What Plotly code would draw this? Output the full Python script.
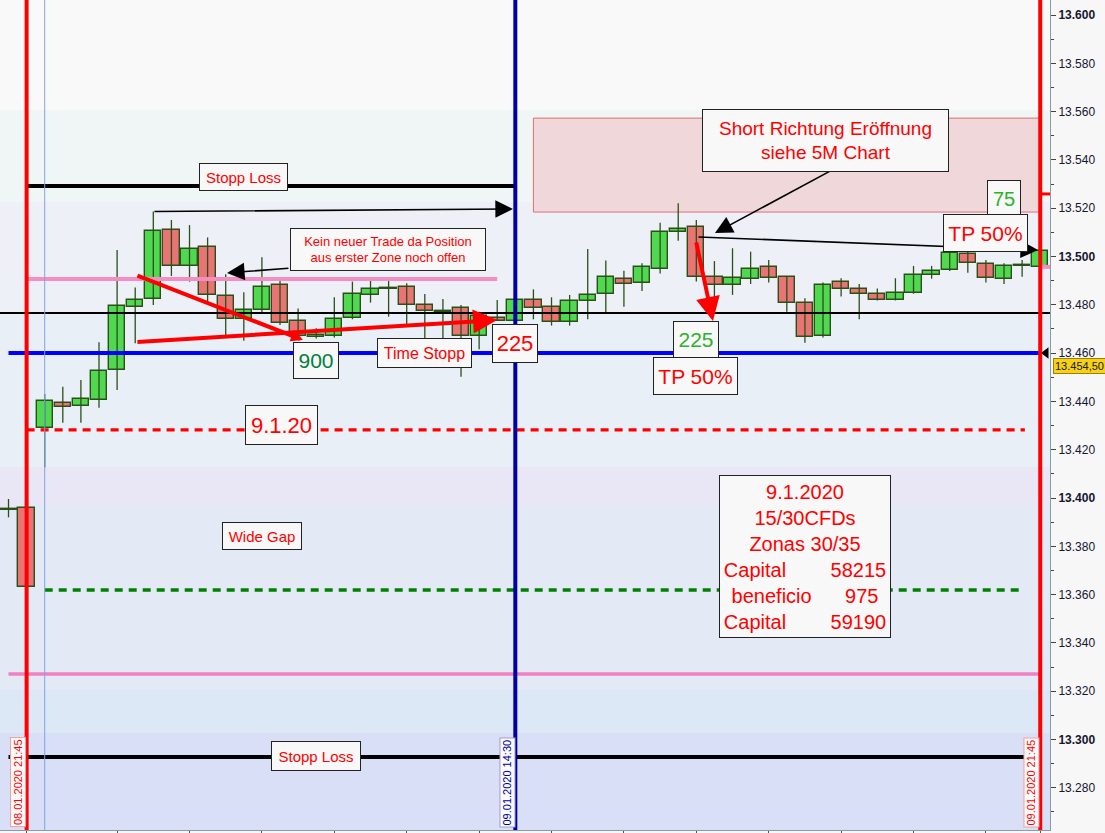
import plotly.graph_objects as go

# ---------------- data (15-min candles, 08.01.2020 21:45 .. 09.01.2020 21:45) ----------------
opens = [13.3951, 13.3957, 13.4289, 13.4392, 13.4382, 13.4405, 13.4529, 13.4791, 13.4824, 13.5108,
         13.4959, 13.5038, 13.4835, 13.4740, 13.4777, 13.4881, 13.4732, 13.4667, 13.4671, 13.4744,
         13.4839, 13.4866, 13.4872, 13.4798, 13.4772, 13.4785, 13.4671, 13.4745, 13.4733, 13.4819,
         13.4790, 13.4728, 13.4814, 13.4844, 13.4908, 13.4889, 13.4947, 13.5100, 13.5124, 13.4914,
         13.4881, 13.4906, 13.4955, 13.4914, 13.4809, 13.4672, 13.4893, 13.4864, 13.4843, 13.4820,
         13.4848, 13.4922, 13.4944, 13.5009, 13.4968, 13.4906, 13.4960, 13.4958]
highs = [13.3996, 13.3960, 13.4431, 13.4461, 13.4489, 13.4645, 13.5027, 13.4872, 13.5186, 13.5151,
         13.5130, 13.5079, 13.4926, 13.4852, 13.4997, 13.4903, 13.4785, 13.4703, 13.4831, 13.4896,
         13.4899, 13.4899, 13.4889, 13.4845, 13.4824, 13.4799, 13.4771, 13.4820, 13.4830, 13.4864,
         13.4831, 13.4841, 13.5031, 13.4983, 13.4941, 13.4972, 13.5140, 13.5220, 13.5151, 13.4981,
         13.5034, 13.5020, 13.4986, 13.4919, 13.4827, 13.4892, 13.4910, 13.4886, 13.4868, 13.4910,
         13.4961, 13.4961, 13.5030, 13.5020, 13.4986, 13.4972, 13.4986, 13.5030]
lows = [13.3920, 13.3628, 13.4127, 13.4312, 13.4312, 13.4374, 13.4447, 13.4641, 13.4799, 13.4919,
        13.4896, 13.4809, 13.4675, 13.4651, 13.4765, 13.4716, 13.4663, 13.4660, 13.4665, 13.4740,
        13.4809, 13.4751, 13.4720, 13.4661, 13.4661, 13.4502, 13.4616, 13.4733, 13.4730, 13.4740,
        13.4714, 13.4714, 13.4740, 13.4767, 13.4792, 13.4857, 13.4930, 13.5065, 13.4896, 13.4806,
        13.4841, 13.4886, 13.4892, 13.4771, 13.4643, 13.4665, 13.4834, 13.4740, 13.4818, 13.4818,
        13.4846, 13.4908, 13.4940, 13.4933, 13.4892, 13.4886, 13.4916, 13.4955]
closes = [13.3953, 13.3630, 13.4402, 13.4378, 13.4409, 13.4525, 13.4794, 13.4820, 13.5106, 13.4959,
          13.5030, 13.4841, 13.4740, 13.4777, 13.4872, 13.4723, 13.4671, 13.4675, 13.4740, 13.4844,
          13.4865, 13.4868, 13.4798, 13.4774, 13.4770, 13.4671, 13.4752, 13.4733, 13.4820, 13.4787,
          13.4728, 13.4814, 13.4839, 13.4914, 13.4886, 13.4955, 13.5101, 13.5115, 13.4914, 13.4882,
          13.4910, 13.4947, 13.4910, 13.4809, 13.4666, 13.4883, 13.4864, 13.4843, 13.4820, 13.4850,
          13.4922, 13.4939, 13.5016, 13.4972, 13.4910, 13.4961, 13.4962, 13.5024]
bar_index = list(range(len(opens)))

tick_values = [13.280, 13.300, 13.320, 13.340, 13.360, 13.380, 13.400, 13.420, 13.440,
               13.460, 13.480, 13.500, 13.520, 13.540, 13.560, 13.580, 13.600]
tick_labels = ["13.280", "<b>13.300</b>", "13.320", "13.340", "13.360", "13.380", "<b>13.400</b>",
               "13.420", "13.440", "13.460", "13.480", "<b>13.500</b>", "13.520", "13.540",
               "13.560", "13.580", "<b>13.600</b>"]
hour_ticks = [1, 6, 10, 14, 18, 22, 26, 30, 34, 38, 42, 46, 50, 54, 57]

# drawn levels (prices)
stop_high = 13.5292
pink_high = 13.4907
black_mid = 13.4766
blue_level = 13.4600
red_dash = 13.4282
green_dash = 13.3619
pink_low = 13.3271
stop_low = 13.2928
zone_low, zone_high = 13.5184, 13.5573
last_price_label = "13.454,50"
last_price = 13.4545

FONT = "Liberation Sans"
RED = "#ff0000"
GREEN_TXT = "#2eb02e"

fig = go.Figure()

# wicks
wx, wy = [], []
for i, h, l in zip(bar_index, highs, lows):
    wx += [i, i, None]
    wy += [l, h, None]
fig.add_trace(go.Scatter(x=wx, y=wy, mode="lines", line=dict(color="#2a5018", width=1.3),
                         hoverinfo="skip"))

# bodies
body_base = [min(o, c) for o, c in zip(opens, closes)]
body_h = [max(abs(c - o), 0.0003) for o, c in zip(opens, closes)]
body_col = ["#50d850" if c >= o else "#e87474" for o, c in zip(opens, closes)]
fig.add_trace(go.Bar(x=bar_index, y=body_h, base=body_base, width=0.9,
                     marker=dict(color=body_col, line=dict(color="#2a5018", width=1.4))))

# axis marker triangle at the blue level
fig.add_trace(go.Scatter(x=[57.32], y=[blue_level], mode="markers", cliponaxis=False,
                         marker=dict(symbol="triangle-left", size=10, color="black")))

shapes = []
# background bands
bands = [(13.5607, 13.6100, "#f9f9f9"), (13.5226, 13.5607, "#f0f6f6"),
         (13.4766, 13.5226, "#eef0f8"), (13.4128, 13.4766, "#e9eff7"),
         (13.3971, 13.4128, "#e9e7f6"), (13.3205, 13.3971, "#e4e9f6"),
         (13.3027, 13.3205, "#dce8f6"), (13.2500, 13.3027, "#d9dff6")]
for y0, y1, col in bands:
    shapes.append(dict(type="rect", xref="paper", x0=0, x1=1, yref="y", y0=y0, y1=y1,
                       fillcolor=col, line=dict(width=0), layer="below"))
# short zone
shapes.append(dict(type="rect", xref="x", x0=29, x1=57, yref="y", y0=zone_low, y1=zone_high,
                   fillcolor="#f0d8da", line=dict(color="#e07070", width=1), layer="below"))


def hline(y, x0, x1, color, width, dash="solid"):
    shapes.append(dict(type="line", xref="x", x0=x0, x1=x1, yref="y", y0=y, y1=y,
                       line=dict(color=color, width=width, dash=dash), layer="above"))


def vline(x, color, width):
    shapes.append(dict(type="line", xref="x", x0=x, x1=x, yref="paper", y0=0, y1=1,
                       line=dict(color=color, width=width), layer="above"))


hline(stop_high, 1, 28, "black", 4)
hline(pink_high, 1, 27, "#f48ec2", 4)
shapes.append(dict(type="line", xref="paper", x0=0, x1=1, yref="y", y0=black_mid, y1=black_mid,
                   line=dict(color="black", width=2), layer="above"))
hline(blue_level, 0, 57, "#0000ff", 4)
hline(red_dash, 1, 56.15, RED, 3.3, "8px,6px")
hline(green_dash, 2, 55.9, "#008000", 3.5, "8px,6px")
hline(pink_low, 0, 57, "#f080c0", 3.5)
hline(stop_low, 0, 57, "black", 4)
hline(13.5259, 57, 57.54, RED, 3)
hline(13.4957, 57, 57.54, "#f48ec2", 4)

vline(2, "#7ea4e4", 1)
vline(28, "#0000a0", 4)
vline(1, RED, 4)
vline(57, RED, 4)

annotations = []


def arrow(x, y, ax, ay, color, width, head=2, size=1.0):
    annotations.append(dict(x=x, y=y, ax=ax, ay=ay, xref="x", yref="y", axref="x", ayref="y",
                            text="", showarrow=True, arrowhead=head, arrowsize=size,
                            arrowwidth=width, arrowcolor=color, standoff=0, startstandoff=0))


arrow(27.87, 13.5197, 7.98, 13.5186, "black", 1.6, 2, 2.2)
arrow(12.07, 13.4932, 15.55, 13.4952, "black", 1.6, 2, 2.2)
arrow(39.03, 13.5097, 45.7, 13.5366, "black", 1.6, 2, 2.2)
arrow(56.88, 13.5027, 38.04, 13.5081, "black", 1.6, 2, 2.2)
arrow(16.27, 13.4654, 7.04, 13.4923, RED, 4, 2, 0.6)
arrow(26.99, 13.4737, 7.04, 13.4646, RED, 4, 2, 1.2)
arrow(38.92, 13.4733, 37.98, 13.5064, RED, 4, 2, 1.2)


def box(x, y, text, w, h, size, color=RED):
    annotations.append(dict(x=x, y=y, xref="x", yref="y", text=text, showarrow=False,
                            font=dict(family=FONT, size=size, color=color),
                            bgcolor="#f8f8f8", bordercolor="#222222", borderwidth=1, borderpad=1,
                            width=w, height=h, xanchor="center", yanchor="middle", align="center"))


box(12.98, 13.5329, "Stopp Loss", 85, 24, 15)
box(20.97, 13.5029, "Kein neuer Trade da Position<br>aus erster Zone noch offen", 192, 39, 13)
box(16.99, 13.4569, "900", 42, 33, 21, "#008040")
box(22.98, 13.4600, "Time Stopp", 91, 26, 16)
box(27.98, 13.4640, "225", 42, 35, 22)
box(37.98, 13.4658, "225", 42, 33, 21, GREEN_TXT)
box(37.98, 13.4505, "TP 50%", 81, 34, 21)
box(15.06, 13.4302, "9.1.20", 69, 36, 22)
box(14.0, 13.3843, "Wide Gap", 76, 24, 15)
box(45.14, 13.5480, "Short Richtung Eröffnung<br>siehe 5M Chart", 243, 59, 19)
box(55.0, 13.5240, "75", 30, 33, 20, GREEN_TXT)
box(53.98, 13.5097, "TP 50%", 81, 34, 21)
box(44.0, 13.3758,
    "9.1.2020<br>15/30CFDs<br>Zonas 30/35<br>Capital\u00a0\u00a0\u00a0\u00a0\u00a0\u00a0\u00a0\u00a058215"
    "<br>beneficio\u00a0\u00a0\u00a0\u00a0\u00a0\u00a0975<br>Capital\u00a0\u00a0\u00a0\u00a0\u00a0\u00a0\u00a0\u00a059190",
    168, 159, 20)
box(16.99, 13.2930, "Stopp Loss", 86, 26, 15)

# rotated date labels
for xi, txt, col, bc in [(0.5, "08.01.2020 21:45", RED, "#f0a0a0"),
                         (27.54, "09.01.2020 14:30", "#0000a0", "#a0a0d0"),
                         (56.49, "09.01.2020 21:45", RED, "#f0a0a0")]:
    annotations.append(dict(x=xi, y=0.003, xref="x", yref="paper", text=txt, showarrow=False,
                            textangle=-90, xanchor="center", yanchor="bottom",
                            font=dict(family=FONT, size=11, color=col),
                            bgcolor="#fafafa", bordercolor=bc, borderwidth=1, borderpad=1))

# price tag on axis
annotations.append(dict(x=1.003, y=last_price, xref="paper", yref="y", text=last_price_label,
                        showarrow=False, xanchor="left", yanchor="middle",
                        font=dict(family=FONT, size=11, color="#202020"),
                        bgcolor="#f7d117", bordercolor="#a08000", borderwidth=1, borderpad=1))

fig.update_layout(
    width=1105, height=833,
    margin=dict(l=0, r=55, t=0, b=3),
    plot_bgcolor="#eef0f8", paper_bgcolor="#f7f7f7",
    showlegend=False, barmode="overlay", bargap=0,
    shapes=shapes, annotations=annotations,
    xaxis=dict(range=[-0.47, 57.54], showgrid=False, zeroline=False, showline=True,
               linecolor="#8a9aa8", linewidth=1, tickmode="array", tickvals=hour_ticks,
               ticktext=[""] * len(hour_ticks), ticks="outside", ticklen=3, tickcolor="#555555",
               showticklabels=False),
    yaxis=dict(range=[13.26253, 13.60621], side="right", showgrid=False, zeroline=False,
               showline=True, linecolor="#8a9aa8", linewidth=1, tickmode="array",
               tickvals=tick_values, ticktext=tick_labels, ticks="outside", ticklen=5,
               tickcolor="#444444", tickfont=dict(family=FONT, size=12, color="#151530"),
               minor=dict(tickmode="linear", tick0=13.0, dtick=0.01, ticks="outside",
                          ticklen=3, tickcolor="#444444")),
)

fig.write_html("out.html", config={"displayModeBar": False},
               post_script="document.body.style.margin='0';"
                           "document.body.style.overflow='hidden';")
